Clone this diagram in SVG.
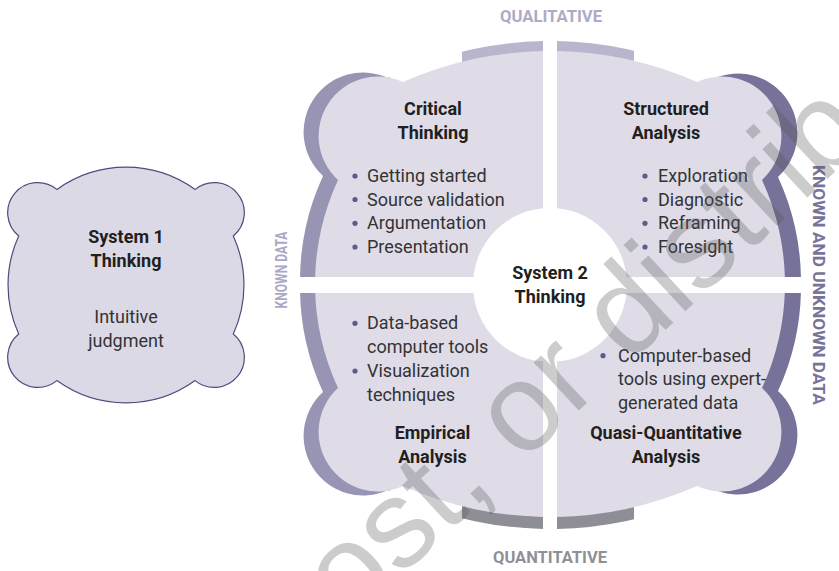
<svg xmlns="http://www.w3.org/2000/svg" xmlns:xlink="http://www.w3.org/1999/xlink" width="839" height="571" viewBox="0 0 839 571">
  <style>
    .title { font-family: Roboto, "Liberation Sans", sans-serif; font-weight: bold; font-size: 18px; fill: #231f20; text-anchor: middle; }
    .item { font-family: Roboto, "Liberation Sans", sans-serif; font-size: 18px; fill: #333333; }
    .axis { font-family: Roboto, "Liberation Sans", sans-serif; font-weight: bold; font-size: 16px; text-anchor: middle; }
    .dot { fill: #5d5a8c; }
    .light { fill: #dfdce8; }
    .shadeL { fill: #9894b4; }
    .shadeR { fill: #77729a; }
    .shadeT { fill: #b8b5cc; }
    .shadeB { fill: #8e8e96; }
    .mark { font-family: "Liberation Sans", Arial, sans-serif; font-size: 125px; fill: #555555; fill-opacity: 0.3; }
  </style>
  <defs>
    <!-- outline of the four-lobed System 2 cloud, centred on (550,284) -->
    <path id="cloud" d="M403,82 A364,364 0 0 1 697,82 A59.5,59.5 0 0 1 762,180 A247,247 0 0 1 762,388 A59.5,59.5 0 0 1 697,486 A364,364 0 0 1 403,486 A59.5,59.5 0 0 1 338,388 A247,247 0 0 1 338,180 A59.5,59.5 0 0 1 403,82 Z"/>
    <clipPath id="qTL"><rect x="0" y="0" width="543" height="277"/></clipPath>
    <clipPath id="qTR"><rect x="557" y="0" width="282" height="277"/></clipPath>
    <clipPath id="qBL"><rect x="0" y="293" width="543" height="278"/></clipPath>
    <clipPath id="qBR"><rect x="557" y="293" width="282" height="278"/></clipPath>
    <clipPath id="sideL"><rect x="0" y="0" width="390" height="571"/></clipPath>
    <clipPath id="sideR"><rect x="712" y="0" width="127" height="571"/></clipPath>
    <clipPath id="mid"><rect x="462" y="0" width="172" height="571"/></clipPath>
  </defs>

  <!-- System 1 -->
  <g id="system1">
    <path d="M56.9,189.4 A118,118 0 0 1 195.1,189.4 A30,30 0 1 1 233.3,236 A118,118 0 0 1 233.3,334 A30,30 0 1 1 195.1,380.6 A118,118 0 0 1 56.9,380.6 A30,30 0 1 1 18.7,334 A118,118 0 0 1 18.7,236 A30,30 0 1 1 56.9,189.4 Z" fill="#dcd9e6" stroke="#4e4c7e" stroke-width="1.2"/>
    <text class="title" x="126" y="242.7">System 1</text>
    <text class="title" x="126" y="266.7">Thinking</text>
    <text class="item" x="126" y="323" text-anchor="middle">Intuitive</text>
    <text class="item" x="126" y="346.7" text-anchor="middle">judgment</text>
  </g>

  <!-- Critical Thinking -->
  <g id="critical-thinking" clip-path="url(#qTL)">
    <g clip-path="url(#sideL)"><use xlink:href="#cloud" class="shadeL" transform="translate(-15,-4)"/></g>
    <g clip-path="url(#mid)"><use xlink:href="#cloud" class="shadeT" transform="translate(0,-10)"/></g>
    <use xlink:href="#cloud" class="light"/>
    <text class="title" x="433" y="114.5">Critical</text>
    <text class="title" x="433" y="138.5">Thinking</text>
    <circle class="dot" cx="355" cy="176" r="2.6"/>
    <circle class="dot" cx="355" cy="199.5" r="2.6"/>
    <circle class="dot" cx="355" cy="223.3" r="2.6"/>
    <circle class="dot" cx="355" cy="247" r="2.6"/>
    <text class="item" x="367" y="182">Getting started</text>
    <text class="item" x="367" y="205.5">Source validation</text>
    <text class="item" x="367" y="229.3">Argumentation</text>
    <text class="item" x="367" y="253">Presentation</text>
  </g>

  <!-- Structured Analysis -->
  <g id="structured-analysis" clip-path="url(#qTR)">
    <g clip-path="url(#sideR)"><use xlink:href="#cloud" class="shadeR" transform="translate(16,-3)"/></g>
    <g clip-path="url(#mid)"><use xlink:href="#cloud" class="shadeT" transform="translate(0,-10)"/></g>
    <use xlink:href="#cloud" class="light"/>
    <text class="title" x="666" y="114.5">Structured</text>
    <text class="title" x="666" y="138.5">Analysis</text>
    <circle class="dot" cx="645" cy="176" r="2.6"/>
    <circle class="dot" cx="645" cy="199.5" r="2.6"/>
    <circle class="dot" cx="645" cy="223.3" r="2.6"/>
    <circle class="dot" cx="645" cy="247" r="2.6"/>
    <text class="item" x="658" y="182">Exploration</text>
    <text class="item" x="658" y="205.5">Diagnostic</text>
    <text class="item" x="658" y="229.3">Reframing</text>
    <text class="item" x="658" y="253">Foresight</text>
  </g>

  <!-- Empirical Analysis -->
  <g id="empirical-analysis" clip-path="url(#qBL)">
    <g clip-path="url(#sideL)"><use xlink:href="#cloud" class="shadeL" transform="translate(-15,4)"/></g>
    <g clip-path="url(#mid)"><use xlink:href="#cloud" class="shadeB" transform="translate(0,12)"/></g>
    <use xlink:href="#cloud" class="light"/>
    <circle class="dot" cx="355" cy="323.3" r="2.6"/>
    <circle class="dot" cx="355" cy="371" r="2.6"/>
    <text class="item" x="367" y="329.3">Data-based</text>
    <text class="item" x="367" y="353.3">computer tools</text>
    <text class="item" x="367" y="377">Visualization</text>
    <text class="item" x="367" y="400.7">techniques</text>
    <text class="title" x="432.5" y="439.3">Empirical</text>
    <text class="title" x="432.5" y="463">Analysis</text>
  </g>

  <!-- Quasi-Quantitative Analysis -->
  <g id="quasi-quantitative-analysis" clip-path="url(#qBR)">
    <g clip-path="url(#sideR)"><use xlink:href="#cloud" class="shadeR" transform="translate(16,3)"/></g>
    <g clip-path="url(#mid)"><use xlink:href="#cloud" class="shadeB" transform="translate(0,12)"/></g>
    <use xlink:href="#cloud" class="light"/>
    <circle class="dot" cx="603" cy="355.7" r="2.6"/>
    <text class="item" x="618" y="361.7">Computer-based</text>
    <text class="item" x="618" y="385">tools using expert-</text>
    <text class="item" x="618" y="408.5">generated data</text>
    <text class="title" x="666" y="439.3">Quasi-Quantitative</text>
    <text class="title" x="666" y="463">Analysis</text>
  </g>

  <!-- System 2 hub -->
  <g id="system2">
    <circle cx="550" cy="285" r="77" fill="#ffffff"/>
    <text class="title" x="550" y="279">System 2</text>
    <text class="title" x="550" y="302.5">Thinking</text>
  </g>

  <!-- axis labels -->
  <g id="axes">
    <text class="axis" x="551" y="21.7" fill="#aeaac6" textLength="102" lengthAdjust="spacingAndGlyphs">QUALITATIVE</text>
    <text class="axis" x="550" y="562.7" fill="#8f8f96" textLength="114" lengthAdjust="spacingAndGlyphs">QUANTITATIVE</text>
    <text class="axis" transform="translate(287,270) rotate(-90)" fill="#aba8c4" font-size="15" textLength="77" lengthAdjust="spacingAndGlyphs">KNOWN DATA</text>
    <text class="axis" transform="translate(813,285) rotate(90)" fill="#77739a" textLength="240" lengthAdjust="spacingAndGlyphs">KNOWN AND UNKNOWN DATA</text>
  </g>

  <g id="connectors"/>

  <!-- watermark, drawn over everything -->
  <text class="mark" transform="translate(349,625) rotate(-43)">ost, or distrib</text>
</svg>
